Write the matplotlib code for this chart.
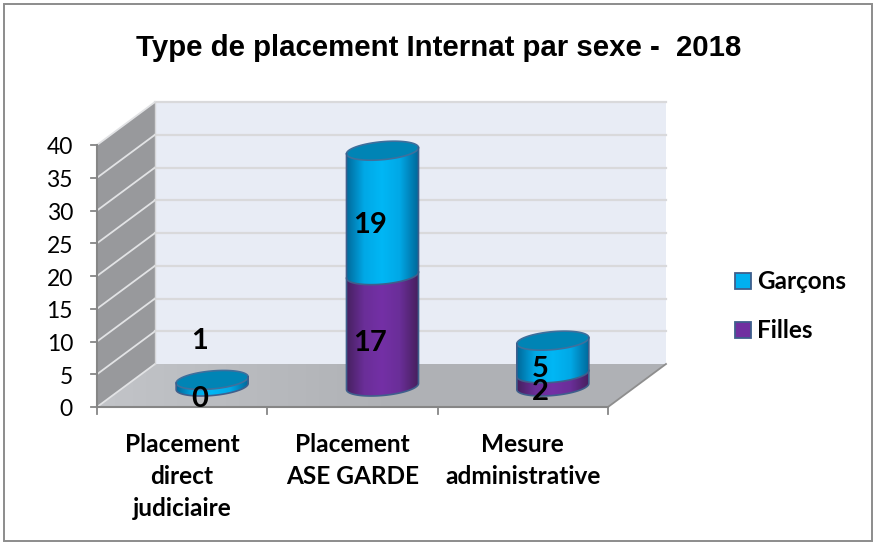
#
#   Type de placement Internat par sexe - 3D style stacked cylinders.
#

import matplotlib
import matplotlib.pyplot as plt
from matplotlib.patches import Polygon, Rectangle
import numpy as np

categories = ["Placement\ndirect\njudiciaire", "Placement\nASE GARDE", "Mesure\nadministrative"]
filles = [0, 17, 2]
garcons = [1, 19, 5]
y_ticks = [0, 5, 10, 15, 20, 25, 30, 35, 40]
title = "Type de placement Internat par sexe -  2018"

# plot geometry in pixels
X0, Y0 = 97.0, 407.0
CAT_W = 170.33
Y_SCALE = 6.55
DX, DY = 58.0, 43.0
BAR_A, BAR_B, BAR_TILT = 36.0, 9.0, 0.085
BAR_SHIFT_X, BAR_SHIFT_Y = 1.0, 1.0


def project(cat, val, depth=0.0):
    """
    Map category position, value and depth into the pixel frame.
    """

    x = X0 + cat * CAT_W + depth * DX
    y = Y0 - val * Y_SCALE - depth * DY
    return x, y


def gradient_poly(ax, pts, colours, horizontal=True, zorder=2):
    """
    Fill a polygon with a linear gradient, clipped to its outline.
    """

    pts = np.array(pts)
    cmap = matplotlib.colors.LinearSegmentedColormap.from_list("g", colours)
    grad = np.linspace(0, 1, 128)
    grad = grad.reshape(1, -1) if horizontal else grad.reshape(-1, 1)
    extent = (pts[:, 0].min(), pts[:, 0].max(), pts[:, 1].max(), pts[:, 1].min())
    im = ax.imshow(grad, extent=extent, cmap=cmap, aspect="auto", zorder=zorder, origin="upper")
    clip = Polygon(pts, closed=True, transform=ax.transData, fc="none", ec="none")
    ax.add_patch(clip)
    im.set_clip_path(clip)


def ellipse(cx, cy, start=0.0, stop=2 * np.pi):
    t = np.linspace(start, stop, 80)
    x = cx + BAR_A * np.cos(t)
    y = cy - BAR_TILT * BAR_A * np.cos(t) - BAR_B * np.sin(t)
    return np.column_stack([x, y])


def bar_centre(cat, val):
    x, y = project(cat, val, 0.5)
    return x + BAR_SHIFT_X, y + BAR_SHIFT_Y


def draw_segment(ax, cat, low, high, colours, zorder):
    cx, y_low = bar_centre(cat, low)
    _, y_high = bar_centre(cat, high)

    back = ellipse(cx, y_high, np.pi, 0.0)
    front = ellipse(cx, y_low, np.pi, 2 * np.pi)
    # outline runs across the upper arc and back along the lower arc
    upper = ellipse(cx, y_high, np.pi, 2 * np.pi)
    body = np.vstack([back, front[::-1]])
    gradient_poly(ax, body, colours, zorder=zorder)
    ax.plot(
        np.r_[upper[0, 0], front[:, 0], upper[-1, 0]],
        np.r_[upper[0, 1], front[:, 1], upper[-1, 1]],
        color="#3F5F8C",
        lw=1.2,
        zorder=zorder + 0.5,
    )


def draw_top(ax, cat, val, zorder):
    cx, cy = bar_centre(cat, val)
    ax.add_patch(
        Polygon(ellipse(cx, cy), closed=True, fc="#0084B5", ec="#3F6F9C", lw=1.2, zorder=zorder)
    )


def draw_walls(ax):
    n_cat = len(categories)
    y_top = y_ticks[-1]

    # back wall and side wall
    ax.add_patch(
        Polygon(
            [project(0, 0, 1), project(n_cat, 0, 1), project(n_cat, y_top, 1), project(0, y_top, 1)],
            fc="#E8ECF5",
            ec="none",
            zorder=1,
        )
    )
    ax.add_patch(
        Polygon(
            [project(0, 0, 0), project(0, 0, 1), project(0, y_top, 1), project(0, y_top, 0)],
            fc="#98999C",
            ec="none",
            zorder=1,
        )
    )

    # floor
    floor = [project(0, 0, 0), project(0, 0, 1), project(n_cat, 0, 1), project(n_cat, 0, 0)]
    gradient_poly(ax, floor, ["#C2C4C8", "#B0B2B6", "#AFB1B5"], zorder=1.2)

    # gridlines
    for tick in y_ticks:
        xs, ys = zip(project(0, tick, 1), project(n_cat, tick, 1))
        if tick > 0:
            ax.plot(xs, ys, color="#D9D9DB", lw=1.6, zorder=1.5)
        xs, ys = zip(project(0, tick, 0), project(0, tick, 1))
        ax.plot(xs, ys, color="#E2E3E5", lw=1.3, zorder=1.5)

    # light edges of the floor and wall
    xs, ys = zip(project(n_cat, 0, 0), project(n_cat, 0, 1))
    ax.plot(xs, ys, color="#8E8E8E", lw=1.3, zorder=1.5)
    xs, ys = zip(project(0, 0, 1), project(0, y_top, 1))
    ax.plot(xs, ys, color="#D5D6D8", lw=1.0, zorder=1.5)


def draw_axes(ax):
    axis_col = "#868686"
    n_cat = len(categories)
    xs, ys = zip(project(0, 0), project(0, y_ticks[-1]))
    ax.plot(xs, ys, color=axis_col, lw=1.5, zorder=3)
    xs, ys = zip(project(0, 0), project(n_cat, 0))
    ax.plot(xs, ys, color=axis_col, lw=1.5, zorder=3)

    for tick in y_ticks:
        x, y = project(0, tick)
        ax.plot([x - 6, x], [y, y], color=axis_col, lw=1.3, zorder=3)
        ax.text(x - 24, y + 3, str(tick), ha="right", va="center", fontsize=16.5,
                family="Lato", color="black", zorder=6)

    for i in range(n_cat + 1):
        x, y = project(i, 0)
        ax.plot([x, x], [y, y + 7], color=axis_col, lw=1.3, zorder=3)

    for i, label in enumerate(categories):
        x, y = project(i + 0.5, 0)
        ax.text(x, y + 25.5, label, ha="center", va="top", fontsize=17.6, family="Lato",
                weight="bold", linespacing=1.5, zorder=6)


def main():
    fig = plt.figure(figsize=(8.75, 5.44), dpi=100)
    ax = fig.add_axes([0, 0, 1, 1])
    ax.set_xlim(0, 875)
    ax.set_ylim(544, 0)
    ax.axis("off")

    # chart frame
    ax.add_patch(Rectangle((3.5, 3.5), 868.5, 537, fc="white", ec="#8C8C8C", lw=1.4, zorder=0))

    ax.text(439, 48, title, ha="center", va="center", fontsize=21.2, weight="bold",
            family="Liberation Sans", zorder=6)

    draw_walls(ax)
    draw_axes(ax)

    blue = ["#00699A", "#00A8E6", "#00B7F5", "#00A8E6", "#006A9C"]
    purple = ["#46205F", "#6A2E98", "#7430A6", "#6A2E98", "#48205F"]

    for i, (low, top) in enumerate(zip(filles, garcons)):
        z = 4 + i
        if low > 0:
            draw_segment(ax, i + 0.5, 0, low, purple, z)
        draw_segment(ax, i + 0.5, low, low + top, blue, z + 0.1)
        draw_top(ax, i + 0.5, low + top, z + 0.2)

        # value labels sit in the front part of each segment
        x, y = project(i + 0.5, low / 2.0)
        ax.text(x + 17.5, y - 8, str(low), ha="center", va="center", fontsize=21,
                family="Lato", weight="bold", zorder=8)
        x, y = project(i + 0.5, low + top / 2.0)
        if i == 0:
            # the small bar has its label lifted above it
            y = y - 54
        ax.text(x + 17.5, y - 8.5, str(top), ha="center", va="center", fontsize=21,
                family="Lato", weight="bold", zorder=8)

    # legend
    for y, label, col in [(281, "Garçons", "#00B0F0"), (330, "Filles", "#7030A0")]:
        ax.add_patch(Rectangle((735, y - 8), 15.5, 15.5, fc=col, ec="#3F5F8C", lw=1.3, zorder=6))
        ax.text(757, y + 0.5, label, ha="left", va="center", fontsize=17.5, family="Lato",
                weight="bold", zorder=6)

    fig.savefig("out.png", dpi=100)


if __name__ == "__main__":
    main()
